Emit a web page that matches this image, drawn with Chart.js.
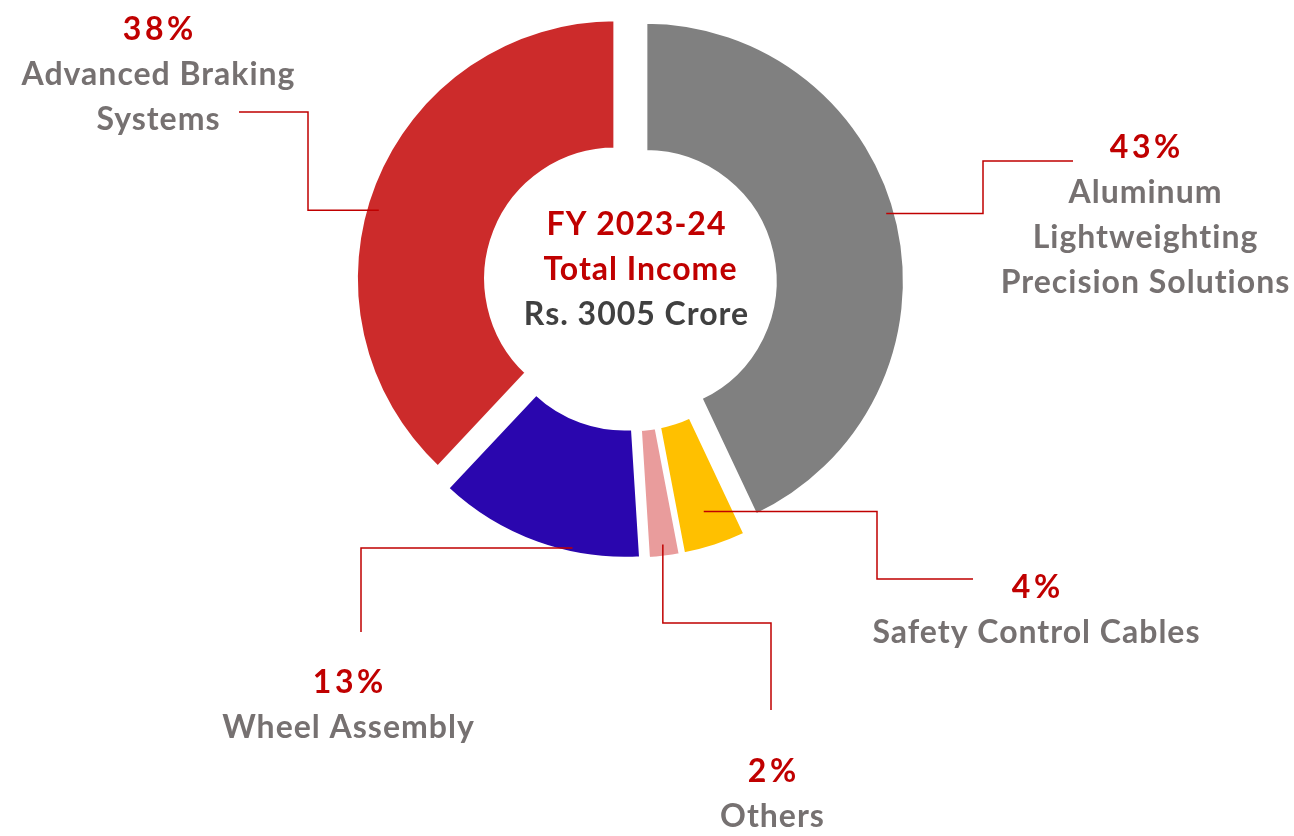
<!DOCTYPE html>
<html>
<head>
<meta charset="utf-8">
<title>FY 2023-24 Total Income</title>
<script src="https://cdn.jsdelivr.net/npm/chart.js@4.4.1/dist/chart.umd.min.js"></script>
<style>
  html, body { margin: 0; padding: 0; background: #fff; }
  #wrap { width: 1294px; height: 836px; position: relative; }
</style>
</head>
<body>
<div id="wrap"><canvas id="incomeChart" width="1294" height="836"></canvas></div>
<script>
// segment data (clockwise from the top)
const segments = ["Aluminum Lightweighting Precision Solutions", "Safety Control Cables", "Others", "Wheel Assembly", "Advanced Braking Systems"];
const shares = [43, 4, 2, 13, 38];
const sliceColors = ["#808080", "#FFC000", "#E99C9C", "#2A06AE", "#CC2B2B"];

// how each label is broken into lines
const labelLines = [
    ["Aluminum", "Lightweighting", "Precision Solutions"],
    ["Safety Control Cables"],
    ["Others"],
    ["Wheel Assembly"],
    ["Advanced Braking", "Systems"]
];

const centerLines = ["FY 2023-24", "Total Income", "Rs. 3005 Crore"];

// label placement: text centre x, baseline of the % line.
// callout: anchor inside the slice (t = along the angle, f = across the ring),
// first leg runs h(orizontally) or v(ertically) to the elbow, then through rest
const labelLayout = [
    { x: 1145, y: 158, t: 0.48, f: 0.93, leg: "h", elbow: 983, rest: [[983, 161], [1073, 161]] },
    { x: 1036, y: 598, t: 0.50, f: 0.72, leg: "h", elbow: 877, rest: [[877, 579], [973, 579]] },
    { x: 772,  y: 782, t: 0.50, f: 0.90, leg: "v", elbow: 623, rest: [[771, 623], [771, 710]] },
    { x: 348,  y: 693, t: 0.33, f: 0.96, leg: "h", elbow: 361, rest: [[361, 632]] },
    { x: 158,  y: 40,  t: 0.46, f: 0.90, leg: "h", elbow: 308, rest: [[308, 112], [239, 112]] }
];

const FONT = "Lato, 'Open Sans', sans-serif";
const TEXT_SIZE = 32;
const LINE_GAP = 45;
const EXPLODE = 16;

// every slice pushed outwards along its middle angle
const explodePlugin = {
    id: "explode",
    beforeDatasetDraw(chart, args) {
        const ctx = chart.ctx;
        args.meta.data.forEach(arc => {
            const mid = (arc.startAngle + arc.endAngle) / 2;
            ctx.save();
            ctx.translate(Math.cos(mid) * EXPLODE, Math.sin(mid) * EXPLODE);
            arc.draw(ctx);
            ctx.restore();
        });
        return false;
    }
};

function anchorOf(arc, t, f) {
    const mid = (arc.startAngle + arc.endAngle) / 2;
    const a = arc.startAngle + t * (arc.endAngle - arc.startAngle);
    const r = arc.innerRadius + f * (arc.outerRadius - arc.innerRadius);
    return [
        arc.x + Math.cos(mid) * EXPLODE + Math.cos(a) * r,
        arc.y + Math.sin(mid) * EXPLODE + Math.sin(a) * r
    ];
}

function spacedText(ctx, text, x, y, spacing) {
    ctx.letterSpacing = spacing + "px";
    ctx.fillText(text, x + spacing / 2, y);
    ctx.letterSpacing = "0px";
}

const calloutPlugin = {
    id: "callouts",
    afterDraw(chart) {
        const ctx = chart.ctx;
        const arcs = chart.getDatasetMeta(0).data;
        ctx.save();

        // leader lines
        ctx.strokeStyle = "#C00000";
        ctx.lineWidth = 1.5;
        labelLayout.forEach((l, i) => {
            const p0 = anchorOf(arcs[i], l.t, l.f);
            const p1 = l.leg === "h" ? [l.elbow, p0[1]] : [p0[0], l.elbow];
            ctx.beginPath();
            ctx.moveTo(p0[0], p0[1]);
            ctx.lineTo(p1[0], p1[1]);
            l.rest.forEach(p => ctx.lineTo(p[0], p[1]));
            ctx.stroke();
        });

        ctx.textAlign = "center";
        ctx.textBaseline = "alphabetic";
        ctx.font = "bold " + TEXT_SIZE + "px " + FONT;

        shares.forEach((v, i) => {
            const l = labelLayout[i];
            ctx.fillStyle = "#C00000";
            spacedText(ctx, v + "%", l.x, l.y, 3.5);
            ctx.fillStyle = "#767171";
            labelLines[i].forEach((t, j) => spacedText(ctx, t, l.x, l.y + LINE_GAP * (j + 1), 1));
        });

        // centre text
        const cx = arcs[0].x + 6;
        const cy = arcs[0].y;
        ctx.fillStyle = "#C00000";
        spacedText(ctx, centerLines[0], cx, cy - 50, 1);
        spacedText(ctx, centerLines[1], cx + 4, cy - 5, 1);
        ctx.fillStyle = "#404040";
        spacedText(ctx, centerLines[2], cx, cy + 40, 1);
        ctx.restore();
    }
};

new Chart(document.getElementById("incomeChart").getContext("2d"), {
    type: "doughnut",
    data: {
        labels: segments,
        datasets: [{
            data: shares,
            backgroundColor: sliceColors,
            borderColor: "#ffffff",
            borderWidth: 3.5,
            radius: 259,
            cutout: "49.9%"
        }]
    },
    options: {
        responsive: false,
        animation: false,
        events: [],
        layout: { padding: { left: 0, right: 34, top: 0, bottom: 267 } },
        plugins: {
            legend: { display: false },
            tooltip: { enabled: false }
        }
    },
    plugins: [explodePlugin, calloutPlugin]
});
</script>
</body>
</html>
